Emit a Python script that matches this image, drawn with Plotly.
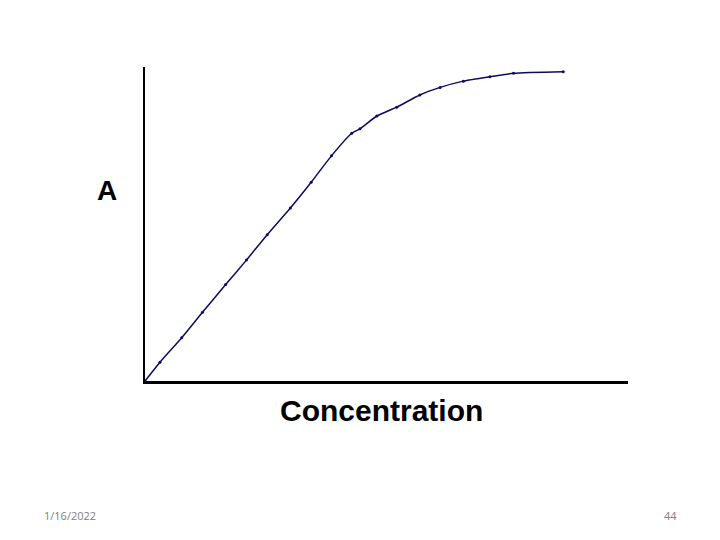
import plotly.graph_objects as go

# Data (arbitrary units, axes 0..10)
concentration = [0.0, 0.31, 0.76, 1.19, 1.67, 2.10, 2.53, 3.01, 3.44, 3.86, 4.28, 4.45,
                 4.80, 5.21, 5.69, 6.11, 6.59, 7.14, 7.63, 8.66]
absorbance = [0.0, 0.60, 1.38, 2.19, 3.07, 3.85, 4.66, 5.51, 6.33, 7.17, 7.89, 8.03,
              8.44, 8.72, 9.11, 9.35, 9.55, 9.69, 9.80, 9.85]

x_label = "Concentration"
y_label = "A"
date_text = "1/16/2022"
page_text = "44"

fig = go.Figure()
fig.add_trace(go.Scatter(
    x=concentration, y=absorbance, mode="lines+markers",
    line=dict(color="#0c0c5c", width=1.5, shape="spline", smoothing=0.6),
    marker=dict(color="#0c0c5c", size=3),
    showlegend=False, hoverinfo="skip",
))

axis_common = dict(showgrid=False, zeroline=False, showticklabels=False, ticks="",
                   showline=True, linecolor="black", range=[0, 10], fixedrange=True)
fig.update_xaxes(**axis_common, linewidth=3)
fig.update_yaxes(**axis_common, linewidth=2)

fig.update_layout(
    width=720, height=540,
    margin=dict(l=137, r=100, t=59, b=167),
    paper_bgcolor="white", plot_bgcolor="white",
    annotations=[
        dict(text=f"<b>{y_label}</b>", xref="paper", yref="paper", x=-0.0793, y=0.608,
             xanchor="center", yanchor="middle", showarrow=False,
             font=dict(family="Liberation Sans, Arial", size=28, color="black")),
        dict(text=f"<b>{x_label}</b>", xref="paper", yref="paper", x=0.4897, y=-0.0955,
             xanchor="center", yanchor="middle", showarrow=False,
             font=dict(family="Liberation Sans, Arial", size=30, color="black")),
        dict(text=date_text, xref="paper", yref="paper", x=-0.155, y=-0.427,
             xanchor="center", yanchor="middle", showarrow=False,
             font=dict(family="Open Sans, Liberation Sans", size=11, color="#808080")),
        dict(text=page_text, xref="paper", yref="paper", x=1.087, y=-0.427,
             xanchor="center", yanchor="middle", showarrow=False,
             font=dict(family="Open Sans, Liberation Sans", size=11, color="#808080")),
    ],
)

fig.write_html("out.html")
